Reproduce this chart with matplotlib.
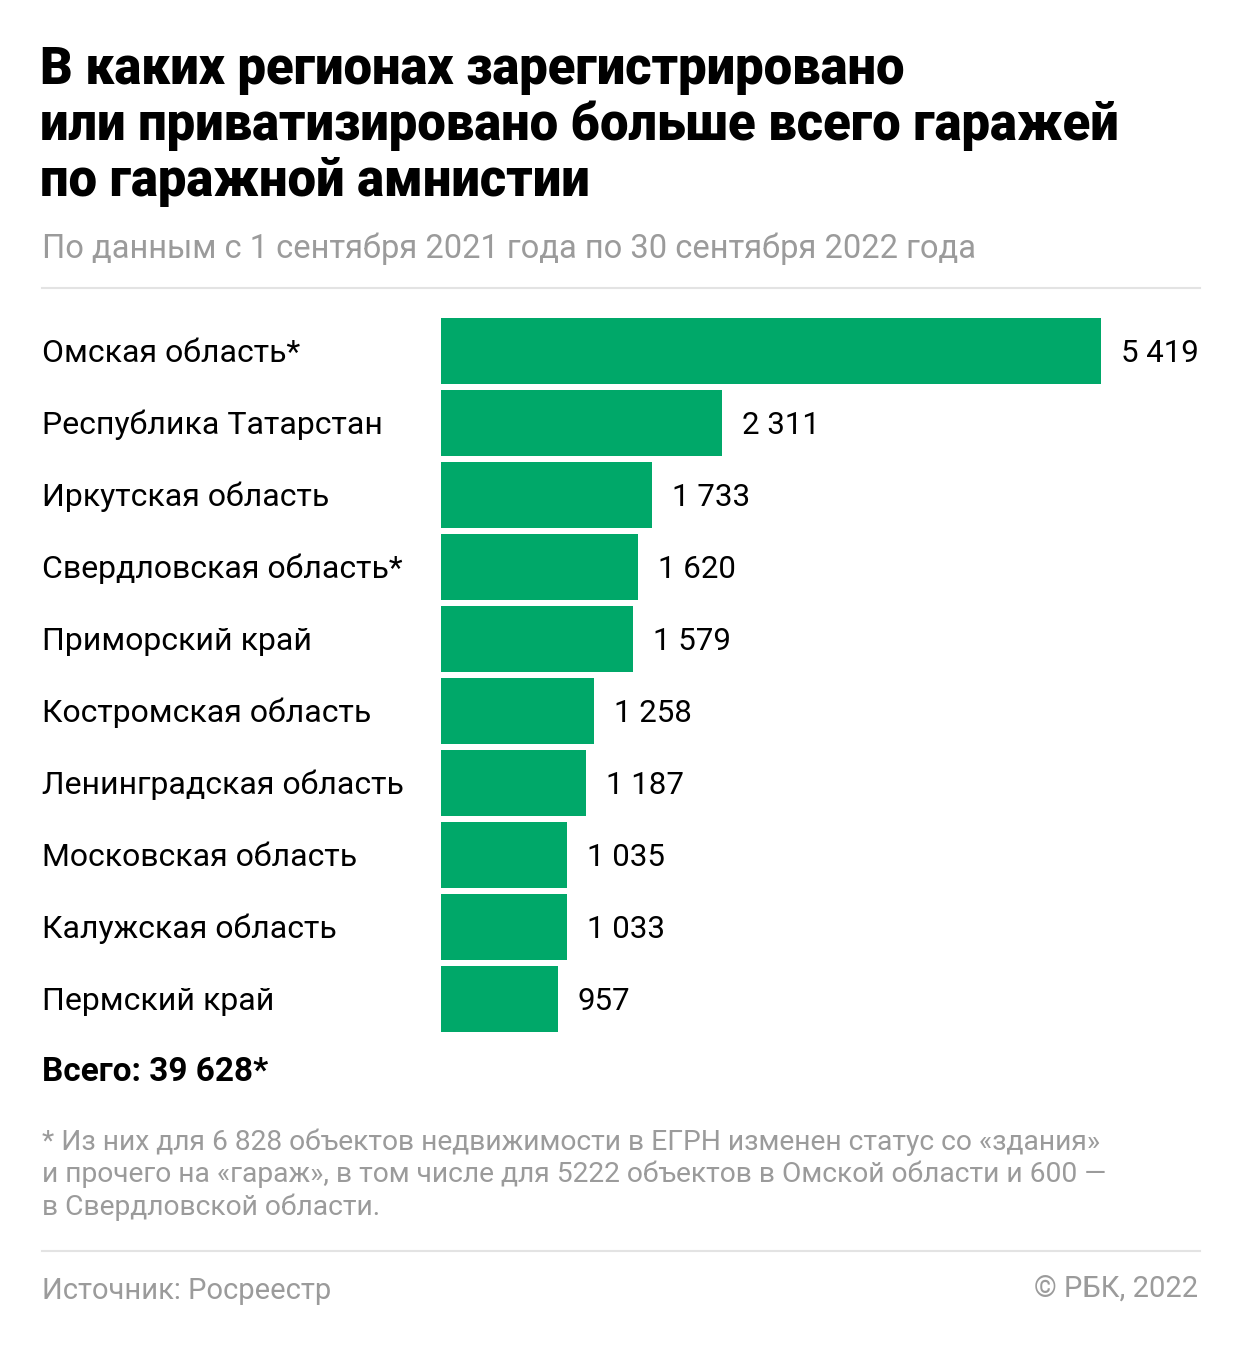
import matplotlib
matplotlib.use('Agg')
import matplotlib.pyplot as plt
from matplotlib.lines import Line2D

# Data
regions = ['Омская область*', 'Республика Татарстан', 'Иркутская область',
           'Свердловская область*', 'Приморский край', 'Костромская область',
           'Ленинградская область', 'Московская область', 'Калужская область',
           'Пермский край']
values = [5419, 2311, 1733, 1620, 1579, 1258, 1187, 1035, 1033, 957]
total = 39628

W, H = 1242, 1348
GREEN = '#00a869'
GRAY = '#9b9b9b'

plt.rcParams['font.family'] = ['Roboto', 'DejaVu Sans']

fig = plt.figure(figsize=(W / 100, H / 100), dpi=100)


def px(x, y):
    return x / W, 1 - y / H


def txt(x, y, s, **kw):
    fig.text(*px(x, y), s, va='center', **kw)


def fmt(v):
    return f'{v:,}'.replace(',', ' ')


# Title
for i, line in enumerate(['В каких регионах зарегистрировано',
                          'или приватизировано больше всего гаражей',
                          'по гаражной амнистии']):
    txt(40, 70 + i * 56, line, fontsize=36.5, fontweight='black', color='black')

txt(42, 249, 'По данным с 1 сентября 2021 года по 30 сентября 2022 года',
    fontsize=23.5, color=GRAY)

# separator lines
for y in (288, 1251):
    fig.add_artist(Line2D([42 / W, 1200 / W], [1 - y / H] * 2,
                          color='#e3e3e3', lw=1.5))

# Bars
ax = fig.add_axes([441 / W, 1 - 1035 / H, 660 / W, 720 / H])
pos = list(range(len(values)))
ax.barh(pos, values, height=0.93, color=GREEN)
ax.set_xlim(0, max(values))
ax.set_ylim(len(values) - 0.5, -0.5)
ax.axis('off')

for p, v, r in zip(pos, values, regions):
    ax.annotate(fmt(v), (v, p), xytext=(14.4, -1.5), textcoords='offset points',
                va='center', ha='left', fontsize=22.5, color='black',
                annotation_clip=False)
    ax.annotate(r, (0, p), xycoords=('figure fraction', 'data'),
                xytext=(42 * 0.72, -1.5), textcoords='offset points',
                va='center', ha='left', fontsize=23, color='black',
                annotation_clip=False)

txt(42, 1072, f'Всего: {fmt(total)}*', fontsize=24, fontweight='bold', color='black')

foot = ['* Из них для 6 828 объектов недвижимости в ЕГРН изменен статус со «здания»',
        'и прочего на «гараж», в том числе для 5222 объектов в Омской области и 600 —',
        'в Свердловской области.']
for i, line in enumerate(foot):
    txt(42, 1142 + i * 32.5, line, fontsize=20.3, color=GRAY)

txt(42, 1291, 'Источник: Росреестр', fontsize=21, color=GRAY)
fig.text(*px(1198, 1289), '© РБК, 2022', va='center', ha='right', fontsize=21, color=GRAY)

fig.savefig('out.png', dpi=100, facecolor='white')
